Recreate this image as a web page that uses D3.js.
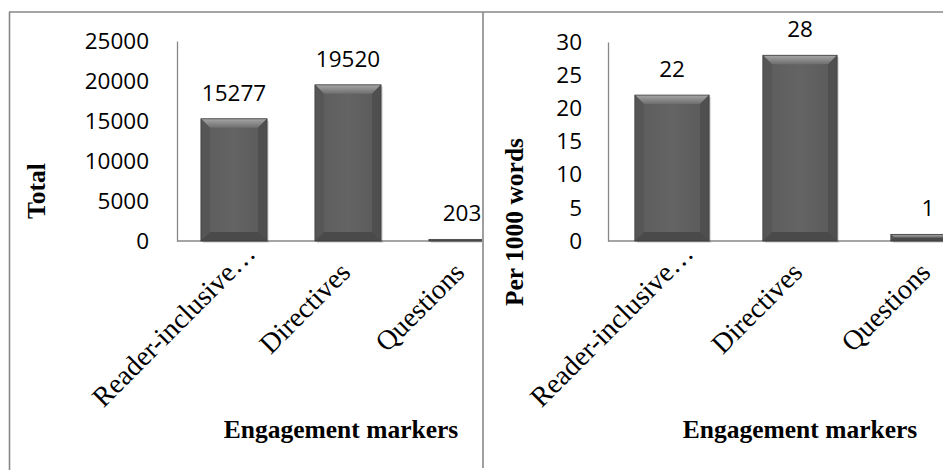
<!DOCTYPE html>
<html>
<head>
<meta charset="utf-8">
<title>Engagement markers</title>
<script src="https://d3js.org/d3.v7.min.js"></script>
<style>
  body { margin: 0; background: #fff; }
  svg { display: block; }
</style>
</head>
<body>
<div id="chart"></div>
<script>
// data
var categories = ["Reader-inclusive…", "Directives", "Questions"];
var totals = [15277, 19520, 203];
var perThousand = [22, 28, 1];
var totalTicks = [0, 5000, 10000, 15000, 20000, 25000];
var perTicks = [0, 5, 10, 15, 20, 25, 30];

var W = 943, H = 470;
var baseY = 241;

var svg = d3.select("#chart").append("svg")
    .attr("width", W)
    .attr("height", H);

var defs = svg.append("defs");

// gradients for the bevelled bars
var body = defs.append("linearGradient").attr("id", "barBody")
    .attr("x1", 0).attr("x2", 1).attr("y1", 0).attr("y2", 0);
body.append("stop").attr("offset", "0%").attr("stop-color", "#4d4d4d");
body.append("stop").attr("offset", "12%").attr("stop-color", "#5e5e5e");
body.append("stop").attr("offset", "50%").attr("stop-color", "#646464");
body.append("stop").attr("offset", "88%").attr("stop-color", "#5c5c5c");
body.append("stop").attr("offset", "100%").attr("stop-color", "#474747");

var topBevel = defs.append("linearGradient").attr("id", "barTop")
    .attr("x1", 0).attr("x2", 0).attr("y1", 0).attr("y2", 1);
topBevel.append("stop").attr("offset", "0%").attr("stop-color", "#a6a6a6");
topBevel.append("stop").attr("offset", "100%").attr("stop-color", "#6e6e6e");

defs.append("clipPath").attr("id", "clipLeft")
  .append("rect").attr("x", 0).attr("y", 0).attr("width", 482).attr("height", H);
defs.append("clipPath").attr("id", "clipRight")
  .append("rect").attr("x", 484).attr("y", 0).attr("width", W - 484).attr("height", H);

// panel borders
var borderColor = "#878787";
svg.append("line").attr("x1", 9).attr("x2", W).attr("y1", 12).attr("y2", 12)
    .attr("stroke", borderColor).attr("stroke-width", 1.6);
svg.append("line").attr("x1", 9.5).attr("x2", 9.5).attr("y1", 12).attr("y2", H)
    .attr("stroke", borderColor).attr("stroke-width", 1.6);
svg.append("line").attr("x1", 483).attr("x2", 483).attr("y1", 12).attr("y2", 468)
    .attr("stroke", borderColor).attr("stroke-width", 1.6);

function drawPanel(opt) {
  var g = svg.append("g").attr("clip-path", "url(#" + opt.clip + ")");

  var x = d3.scaleBand()
      .domain(categories)
      .range([opt.x0, opt.x1])
      .paddingInner(0.42)
      .paddingOuter(0.21);

  var y = d3.scaleLinear()
      .domain([0, opt.max])
      .range([baseY, opt.top]);

  // y axis
  var yAxis = g.append("g")
      .attr("transform", "translate(" + opt.x0 + ",0)")
      .call(d3.axisLeft(y).tickValues(opt.ticks).tickSize(0).tickPadding(opt.tickPad).tickFormat(d3.format("d")));
  yAxis.select(".domain").attr("stroke", borderColor).attr("stroke-width", 1.3);
  yAxis.selectAll("text")
      .attr("font-family", "'Open Sans', 'Noto Sans', sans-serif")
      .attr("font-size", 22.5)
      .attr("fill", "#000");

  // x axis line
  g.append("line")
      .attr("x1", opt.x0).attr("x2", opt.x1)
      .attr("y1", baseY).attr("y2", baseY)
      .attr("stroke", borderColor).attr("stroke-width", 1.5);

  // bars
  var bars = g.selectAll(".bar")
      .data(opt.values)
    .enter().append("g")
      .attr("class", "bar");

  bars.each(function(v, i) {
    var bx = x(categories[i]), bw = x.bandwidth();
    var by = y(v), bh = baseY - by;
    var b = Math.min(9, bh / 2, bw / 2);
    var s = d3.select(this);
    // soft shadow
    s.append("rect")
        .attr("x", bx + 2).attr("y", by + 2)
        .attr("width", bw).attr("height", bh)
        .attr("fill", "#000").attr("opacity", 0.12);
    s.append("rect")
        .attr("x", bx).attr("y", by)
        .attr("width", bw).attr("height", bh)
        .attr("fill", "url(#barBody)");
    // top bevel
    s.append("polygon")
        .attr("points", [[bx, by], [bx + bw, by], [bx + bw - b, by + b], [bx + b, by + b]].join(" "))
        .attr("fill", "url(#barTop)");
    // side bevels
    s.append("polygon")
        .attr("points", [[bx, by], [bx + b, by + b], [bx + b, baseY - b], [bx, baseY]].join(" "))
        .attr("fill", "#565656");
    s.append("polygon")
        .attr("points", [[bx + bw, by], [bx + bw - b, by + b], [bx + bw - b, baseY - b], [bx + bw, baseY]].join(" "))
        .attr("fill", "#4f4f4f");
    s.append("polygon")
        .attr("points", [[bx, baseY], [bx + b, baseY - b], [bx + bw - b, baseY - b], [bx + bw, baseY]].join(" "))
        .attr("fill", "#4a4a4a");
    s.append("rect")
        .attr("x", bx).attr("y", by)
        .attr("width", bw).attr("height", bh)
        .attr("fill", "none").attr("stroke", "#3e3e3e").attr("stroke-width", 0.8);

    // value label
    s.append("text")
        .attr("x", bx + bw / 2)
        .attr("y", by - 18)
        .attr("text-anchor", "middle")
        .attr("font-family", "'Open Sans', 'Noto Sans', sans-serif")
        .attr("font-size", 22.5)
        .attr("fill", "#000")
        .text(v);
  });

  // rotated category labels
  g.selectAll(".cat")
      .data(categories)
    .enter().append("text")
      .attr("class", "cat")
      .attr("text-anchor", "end")
      .attr("font-family", "'Liberation Serif', 'Times New Roman', serif")
      .attr("font-size", 28)
      .attr("fill", "#000")
      .attr("transform", function(d) {
        // truncated labels sit further along their line in the original
        var shift = d.slice(-1) === "…" ? 27 : 0;
        var cx = x(d) + x.bandwidth() / 2 + 4 + shift * 0.707;
        var cy = baseY + 33 - shift * 0.707;
        return "translate(" + cx + "," + cy + ") rotate(-45)";
      })
      .text(function(d) { return d; });

  // axis titles
  g.append("text")
      .attr("transform", "translate(" + opt.titleX + "," + opt.titleY + ") rotate(-90)")
      .attr("text-anchor", "middle")
      .attr("font-family", "'Liberation Serif', 'Times New Roman', serif")
      .attr("font-weight", "bold")
      .attr("font-size", 25.5)
      .text(opt.yTitle);

  g.append("text")
      .attr("x", opt.xTitleX)
      .attr("y", 438)
      .attr("text-anchor", "middle")
      .attr("font-family", "'Liberation Serif', 'Times New Roman', serif")
      .attr("font-weight", "bold")
      .attr("font-size", 25.5)
      .text("Engagement markers");
}

drawPanel({
  clip: "clipLeft", values: totals, ticks: totalTicks, max: 25000,
  x0: 177, x1: 519, top: 41, tickPad: 28,
  yTitle: "Total", titleX: 45, titleY: 191, xTitleX: 341
});

drawPanel({
  clip: "clipRight", values: perThousand, ticks: perTicks, max: 30,
  x0: 608, x1: 992, top: 42, tickPad: 26,
  yTitle: "Per 1000 words", titleX: 523, titleY: 222, xTitleX: 800
});
</script>
</body>
</html>
